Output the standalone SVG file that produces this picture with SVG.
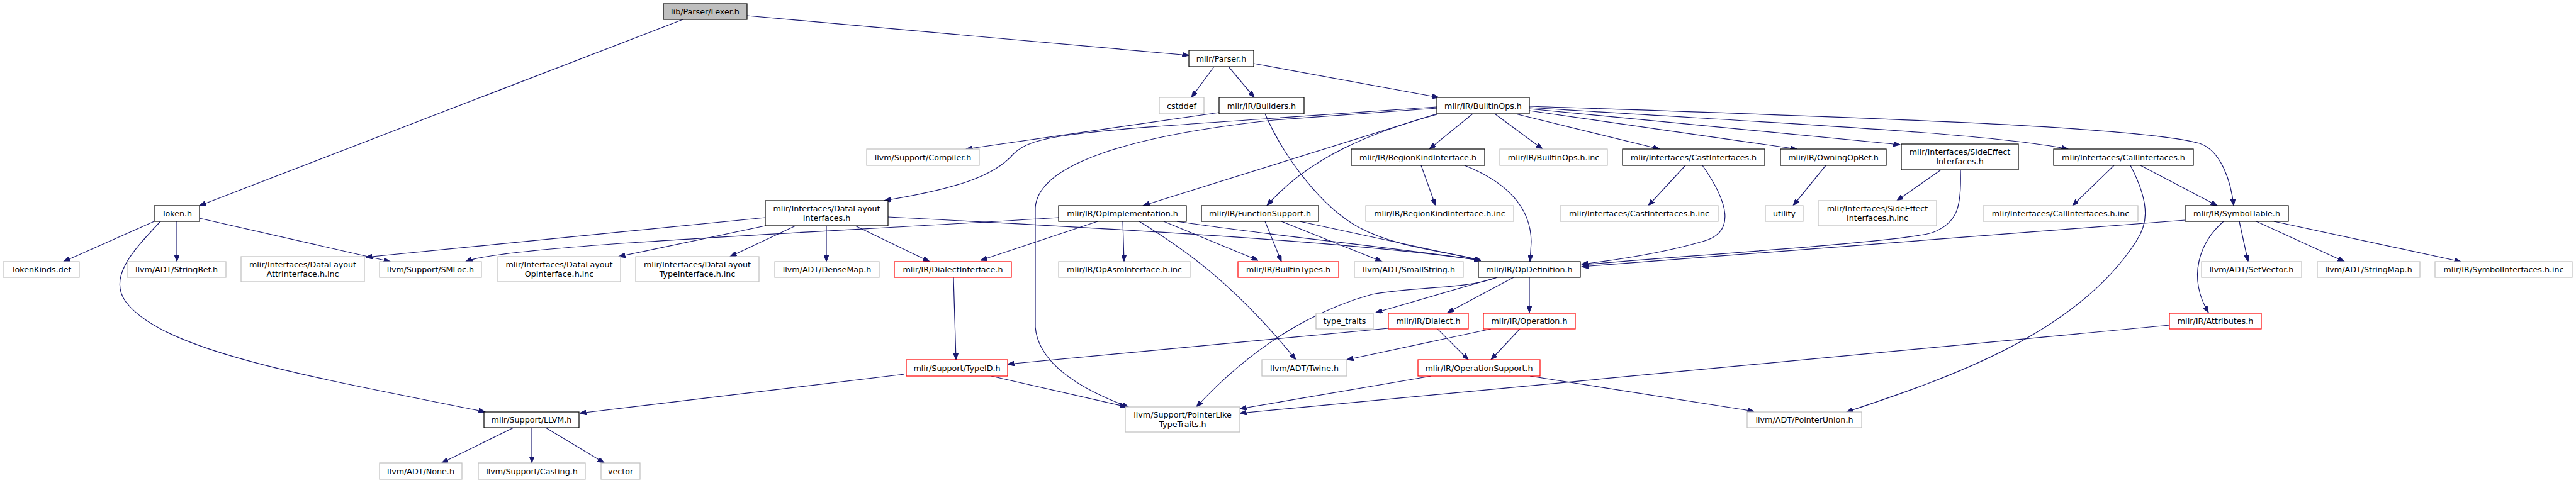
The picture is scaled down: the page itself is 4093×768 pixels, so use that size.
<svg xmlns="http://www.w3.org/2000/svg" width="4093" height="768" viewBox="0 0 4093 768">
<defs>
<style>
rect{fill:#fff;stroke-width:1.2}
.n rect{stroke:#000}
.g rect{stroke:#bfbfbf}
.r rect{stroke:#ff0000}
.root rect{stroke:#000;fill:#bfbfbf}
text{font-family:"DejaVu Sans","Liberation Sans",sans-serif;font-size:12.7px;fill:#000;text-anchor:middle}
#edges path{fill:none;stroke:#191970;stroke-width:1.2;marker-end:url(#ah)}
</style>
<marker id="ah" markerWidth="11" markerHeight="8" refX="10.5" refY="4" orient="auto" markerUnits="userSpaceOnUse">
<path d="M0,0 L10.5,4 L0,8 z" fill="#191970" stroke="#191970" stroke-width="1"/>
</marker>
</defs>
<rect x="0" y="0" width="4093" height="768" style="fill:#fff;stroke:none"/>
<g id="edges">
<path d="M1187,25 L1889,88"/>
<path d="M1085,31 L317,327"/>
<path d="M1929,106 L1893,155"/>
<path d="M1952,106 L1993,155"/>
<path d="M1992,101 L2286,155"/>
<path d="M1937,179 L1535,237"/>
<path d="M2010,181 C2040,250 2100,330 2160,362 S2300,400 2353,414"/>
<path d="M2283,170 L2024,188 C1700,210 1640,215 1610,245 C1580,280 1520,300 1405,319"/>
<path d="M2283,172 L2024,191 C1800,215 1650,260 1645,330 L1645,520 C1650,580 1720,620 1793,647"/>
<path d="M2283,181 L1816,327"/>
<path d="M2283,182 C2180,210 2080,250 2013,327"/>
<path d="M2340,181 L2271,237"/>
<path d="M2375,181 L2451,237"/>
<path d="M2408,181 L2637,237"/>
<path d="M2430,176 L2855,237"/>
<path d="M2430,173 L3019,230"/>
<path d="M2430,171 C2800,195 3150,210 3286,237"/>
<path d="M2430,169 C2900,185 3400,200 3495,228 C3530,240 3545,290 3549,327"/>
<path d="M2258,263 L2281,327"/>
<path d="M2327,263 C2395,290 2432,330 2433,384 L2431,416"/>
<path d="M2678,263 L2619,327"/>
<path d="M2705,263 C2745,320 2760,370 2705,384 C2650,400 2580,412 2513,420"/>
<path d="M2901,263 L2849,327"/>
<path d="M3084,270 L3014,319"/>
<path d="M3115,270 C3117,330 3110,355 3070,370 C3020,385 2700,405 2513,421"/>
<path d="M3359,263 L3293,327"/>
<path d="M3401,263 L3523,327"/>
<path d="M3385,263 C3420,330 3410,360 3394,384 C3300,530 3100,600 2934,655"/>
<path d="M3472,350 L2513,424"/>
<path d="M3533,352 C3495,385 3475,440 3509,497"/>
<path d="M3558,352 L3572,416"/>
<path d="M3585,352 L3725,416"/>
<path d="M3613,352 L3910,416"/>
<path d="M245,352 L101,416"/>
<path d="M281,352 L281,416"/>
<path d="M317,347 L620,416"/>
<path d="M255,352 C215,395 170,440 200,480 C260,560 500,600 771,655"/>
<path d="M1216,346 L581,409"/>
<path d="M1216,359 L983,408"/>
<path d="M1264,359 L1160,408"/>
<path d="M1313,359 L1313,416"/>
<path d="M1359,359 L1477,416"/>
<path d="M1411,345 C1800,365 2150,385 2353,414"/>
<path d="M1682,346 C1300,370 800,390 740,416"/>
<path d="M1744,352 L1558,414"/>
<path d="M1784,352 L1786,416"/>
<path d="M1810,352 C1880,395 1960,450 2059,572"/>
<path d="M1849,352 L1999,414"/>
<path d="M1870,352 C2000,372 2200,392 2353,414"/>
<path d="M2010,352 L2036,416"/>
<path d="M2036,352 L2196,416"/>
<path d="M2065,352 L2353,414"/>
<path d="M1515,441 L1519,572"/>
<path d="M2379,441 L2186,497"/>
<path d="M2405,441 L2300,497"/>
<path d="M2430,441 L2430,497"/>
<path d="M2379,441 C2330,460 2250,455 2180,468 C2100,490 2000,540 1901,647"/>
<path d="M2206,522 L1601,579"/>
<path d="M2284,523 L2333,572"/>
<path d="M2369,523 L2140,572"/>
<path d="M2415,523 L2369,572"/>
<path d="M2274,598 L1970,650"/>
<path d="M2431,598 L2787,654"/>
<path d="M3447,517 L1970,657"/>
<path d="M1437,595 L921,657"/>
<path d="M1575,598 L1790,647"/>
<path d="M816,680 L702,736"/>
<path d="M845,680 L845,736"/>
<path d="M867,680 L960,736"/>
</g>
<g id="lexer" class="root"><rect x="1054" y="6" width="133" height="25"/><text x="1120.5" y="23">lib/Parser/Lexer.h</text></g>
<g id="parser" class="n"><rect x="1889" y="80" width="103" height="26"/><text x="1940.5" y="97.5">mlir/Parser.h</text></g>
<g id="cstddef" class="g"><rect x="1842" y="155" width="71" height="26"/><text x="1877.5" y="172.5">cstddef</text></g>
<g id="builders" class="n"><rect x="1937" y="155" width="135" height="26"/><text x="2004.5" y="172.5">mlir/IR/Builders.h</text></g>
<g id="builtinops" class="n"><rect x="2283" y="155" width="147" height="26"/><text x="2356.5" y="172.5">mlir/IR/BuiltinOps.h</text></g>
<g id="compiler" class="g"><rect x="1377" y="237" width="179" height="26"/><text x="1466.5" y="254.5">llvm/Support/Compiler.h</text></g>
<g id="regionkind" class="n"><rect x="2147" y="237" width="212" height="26"/><text x="2253" y="254.5">mlir/IR/RegionKindInterface.h</text></g>
<g id="builtinopsinc" class="g"><rect x="2383" y="237" width="171" height="26"/><text x="2468.5" y="254.5">mlir/IR/BuiltinOps.h.inc</text></g>
<g id="castif" class="n"><rect x="2578" y="237" width="226" height="26"/><text x="2691" y="254.5">mlir/Interfaces/CastInterfaces.h</text></g>
<g id="owning" class="n"><rect x="2829" y="237" width="168" height="26"/><text x="2913" y="254.5">mlir/IR/OwningOpRef.h</text></g>
<g id="sideeffect" class="n"><rect x="3021" y="229" width="186" height="41"/><text x="3114" y="246">mlir/Interfaces/SideEffect</text><text x="3114" y="261">Interfaces.h</text></g>
<g id="callif" class="n"><rect x="3263" y="237" width="222" height="26"/><text x="3374" y="254.5">mlir/Interfaces/CallInterfaces.h</text></g>
<g id="token" class="n"><rect x="245" y="327" width="72" height="25"/><text x="281" y="344">Token.h</text></g>
<g id="datalayout" class="n"><rect x="1216" y="319" width="195" height="40"/><text x="1313.5" y="335.5">mlir/Interfaces/DataLayout</text><text x="1313.5" y="350.5">Interfaces.h</text></g>
<g id="opimpl" class="n"><rect x="1682" y="327" width="203" height="25"/><text x="1783.5" y="344">mlir/IR/OpImplementation.h</text></g>
<g id="funcsupport" class="n"><rect x="1909" y="327" width="186" height="25"/><text x="2002" y="344">mlir/IR/FunctionSupport.h</text></g>
<g id="regionkindinc" class="g"><rect x="2170" y="327" width="235" height="25"/><text x="2287.5" y="344">mlir/IR/RegionKindInterface.h.inc</text></g>
<g id="castifinc" class="g"><rect x="2479" y="327" width="251" height="25"/><text x="2604.5" y="344">mlir/Interfaces/CastInterfaces.h.inc</text></g>
<g id="utility" class="g"><rect x="2805" y="327" width="60" height="25"/><text x="2835" y="344">utility</text></g>
<g id="sideeffectinc" class="g"><rect x="2889" y="319" width="188" height="40"/><text x="2983" y="335.5">mlir/Interfaces/SideEffect</text><text x="2983" y="350.5">Interfaces.h.inc</text></g>
<g id="callifinc" class="g"><rect x="3151" y="327" width="246" height="25"/><text x="3274" y="344">mlir/Interfaces/CallInterfaces.h.inc</text></g>
<g id="symboltable" class="n"><rect x="3472" y="327" width="164" height="25"/><text x="3554" y="344">mlir/IR/SymbolTable.h</text></g>
<g id="tokenkinds" class="g"><rect x="5" y="416" width="121" height="25"/><text x="65.5" y="433">TokenKinds.def</text></g>
<g id="stringref" class="g"><rect x="202" y="416" width="157" height="25"/><text x="280.5" y="433">llvm/ADT/StringRef.h</text></g>
<g id="dlattrinc" class="g"><rect x="383" y="408" width="196" height="40"/><text x="481" y="424.5">mlir/Interfaces/DataLayout</text><text x="481" y="439.5">AttrInterface.h.inc</text></g>
<g id="smloc" class="g"><rect x="603" y="416" width="162" height="25"/><text x="684" y="433">llvm/Support/SMLoc.h</text></g>
<g id="dlopinc" class="g"><rect x="791" y="408" width="195" height="40"/><text x="888.5" y="424.5">mlir/Interfaces/DataLayout</text><text x="888.5" y="439.5">OpInterface.h.inc</text></g>
<g id="dltypeinc" class="g"><rect x="1010" y="408" width="196" height="40"/><text x="1108" y="424.5">mlir/Interfaces/DataLayout</text><text x="1108" y="439.5">TypeInterface.h.inc</text></g>
<g id="densemap" class="g"><rect x="1231" y="416" width="166" height="25"/><text x="1314" y="433">llvm/ADT/DenseMap.h</text></g>
<g id="dialectif" class="r"><rect x="1421" y="416" width="186" height="25"/><text x="1514" y="433">mlir/IR/DialectInterface.h</text></g>
<g id="opasminc" class="g"><rect x="1682" y="416" width="209" height="25"/><text x="1786.5" y="433">mlir/IR/OpAsmInterface.h.inc</text></g>
<g id="builtintypes" class="r"><rect x="1967" y="416" width="160" height="25"/><text x="2047" y="433">mlir/IR/BuiltinTypes.h</text></g>
<g id="smallstring" class="g"><rect x="2152" y="416" width="173" height="25"/><text x="2238.5" y="433">llvm/ADT/SmallString.h</text></g>
<g id="opdef" class="n"><rect x="2349" y="416" width="162" height="25"/><text x="2430" y="433">mlir/IR/OpDefinition.h</text></g>
<g id="setvector" class="g"><rect x="3498" y="416" width="159" height="25"/><text x="3577.5" y="433">llvm/ADT/SetVector.h</text></g>
<g id="stringmap" class="g"><rect x="3682" y="416" width="163" height="25"/><text x="3763.5" y="433">llvm/ADT/StringMap.h</text></g>
<g id="symifinc" class="g"><rect x="3869" y="416" width="218" height="25"/><text x="3978" y="433">mlir/IR/SymbolInterfaces.h.inc</text></g>
<g id="typetraits" class="g"><rect x="2091" y="498" width="91" height="25"/><text x="2136.5" y="515">type_traits</text></g>
<g id="dialect" class="r"><rect x="2206" y="498" width="127" height="25"/><text x="2269.5" y="515">mlir/IR/Dialect.h</text></g>
<g id="operation" class="r"><rect x="2357" y="498" width="146" height="25"/><text x="2430" y="515">mlir/IR/Operation.h</text></g>
<g id="attributes" class="r"><rect x="3447" y="498" width="146" height="25"/><text x="3520" y="515">mlir/IR/Attributes.h</text></g>
<g id="typeid" class="r"><rect x="1440" y="572" width="161" height="26"/><text x="1520.5" y="589.5">mlir/Support/TypeID.h</text></g>
<g id="twine" class="g"><rect x="2005" y="572" width="135" height="26"/><text x="2072.5" y="589.5">llvm/ADT/Twine.h</text></g>
<g id="opsupport" class="r"><rect x="2253" y="572" width="194" height="26"/><text x="2350" y="589.5">mlir/IR/OperationSupport.h</text></g>
<g id="llvm" class="n"><rect x="769" y="655" width="151" height="25"/><text x="844.5" y="672">mlir/Support/LLVM.h</text></g>
<g id="pointerlike" class="g"><rect x="1788" y="647" width="182" height="40"/><text x="1879" y="663.5">llvm/Support/PointerLike</text><text x="1879" y="678.5">TypeTraits.h</text></g>
<g id="pointerunion" class="g"><rect x="2776" y="655" width="182" height="25"/><text x="2867" y="672">llvm/ADT/PointerUnion.h</text></g>
<g id="none" class="g"><rect x="603" y="736" width="131" height="26"/><text x="668.5" y="753.5">llvm/ADT/None.h</text></g>
<g id="casting" class="g"><rect x="760" y="736" width="170" height="26"/><text x="845" y="753.5">llvm/Support/Casting.h</text></g>
<g id="vector" class="g"><rect x="955" y="736" width="62" height="26"/><text x="986" y="753.5">vector</text></g>
</svg>
